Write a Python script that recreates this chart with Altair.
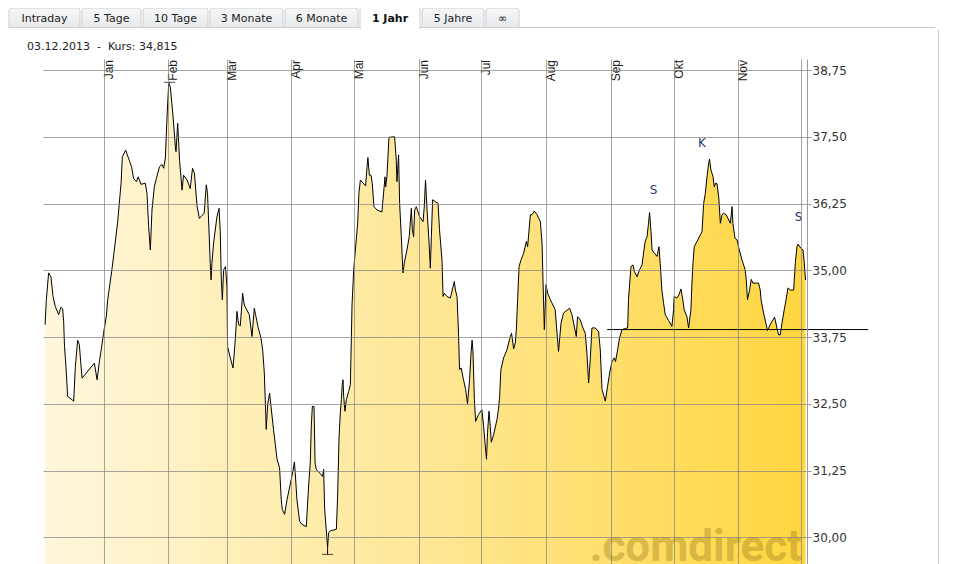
import altair as alt
import pandas as pd

# ---------------- data ----------------
START = pd.Timestamp("2012-12-03")

# trading-day positions (days since 03.12.2012)
days = [
    1.0, 1.6, 2.7, 3.8, 4.8, 5.9, 7.5, 8.6, 9.4, 9.9,
    10.3, 11.0, 11.8, 14.7, 15.5, 16.6, 17.4, 17.9, 18.7, 24.6,
    25.9, 27.0, 28.1, 29.0, 30.3, 31.0, 33.0, 35.7, 37.4, 38.0,
    39.6, 41.3, 42.4, 43.4, 44.7, 45.6, 46.9, 49.0, 49.8, 50.6,
    51.4, 52.2, 53.3, 54.3, 55.8, 57.0, 57.8, 58.6, 59.4, 60.2,
    61.0, 62.3, 63.4, 63.7, 64.5, 65.4, 66.6, 67.3, 69.0, 70.5,
    71.6, 72.5, 73.8, 74.9, 77.2, 78.2, 78.8, 80.1, 80.5, 80.9,
    81.7, 83.3, 84.3, 84.9, 85.4, 85.9, 86.5, 87.4, 88.1, 88.4,
    89.7, 91.0, 92.1, 92.9, 93.7, 94.5, 95.6, 96.4, 98.8, 100.1,
    101.2, 101.8, 103.1, 104.4, 105.2, 106.0, 106.6, 106.9, 107.6, 108.5,
    109.2, 110.4, 112.1, 113.3, 114.1, 114.6, 115.7, 116.9, 118.4, 119.7,
    120.4, 120.8, 121.6, 122.9, 124.0, 126.1, 127.2, 128.0, 128.5, 129.0,
    129.8, 130.3, 130.9, 132.8, 133.9, 134.4, 134.9, 135.7, 136.3, 136.8,
    137.6, 140.5, 141.1, 141.8, 142.4, 142.9, 143.3, 143.7, 144.0, 144.6,
    145.3, 146.4, 147.2, 147.5, 148.0, 148.8, 149.6, 150.7, 151.3, 152.0,
    154.5, 155.2, 155.6, 156.3, 157.1, 157.7, 158.5, 160.0, 162.3, 163.1,
    163.8, 164.1, 164.7, 165.7, 168.4, 169.2, 169.5, 170.3, 170.8, 171.6,
    172.4, 173.0, 174.3, 175.4, 176.4, 176.9, 177.5, 178.0, 178.8, 180.4,
    182.0, 182.6, 183.2, 183.9, 184.9, 185.5, 186.0, 186.6, 189.2, 189.9,
    191.1, 191.6, 192.2, 193.5, 195.1, 196.0, 197.0, 197.5, 198.3, 199.0,
    199.5, 200.3, 201.4, 202.4, 203.3, 204.3, 205.0, 205.5, 205.9, 206.6,
    207.2, 208.6, 210.2, 211.0, 211.7, 212.4, 212.9, 213.6, 214.2, 214.7,
    215.8, 217.4, 218.2, 218.7, 219.3, 220.6, 222.2, 223.8, 224.4, 225.4,
    226.2, 226.7, 227.3, 228.0, 228.9, 230.2, 231.5, 232.1, 233.4, 234.2,
    235.3, 236.6, 238.2, 239.0, 239.5, 240.1, 240.9, 241.7, 243.0, 244.2,
    245.3, 246.2, 246.9, 248.1, 249.3, 252.2, 253.3, 254.6, 255.4, 256.0,
    257.3, 258.6, 259.7, 260.5, 261.3, 262.1, 262.9, 264.5, 266.1, 266.9,
    267.7, 269.3, 270.4, 271.4, 272.5, 273.6, 274.2, 275.2, 276.1, 277.3,
    278.9, 280.0, 280.4, 281.6, 282.6, 283.2, 284.5, 285.7, 286.9, 287.6,
    288.4, 289.3, 290.0, 290.5, 291.2, 291.7, 292.8, 294.1, 295.0, 295.6,
    296.4, 297.2, 298.0, 299.6, 301.2, 302.0, 302.3, 303.6, 304.6, 305.5,
    306.3, 307.1, 308.4, 309.2, 310.3, 310.8, 311.3, 311.9, 313.2, 314.8,
    315.6, 316.4, 317.2, 318.0, 318.8, 319.2, 319.9, 320.9, 321.5, 322.1,
    322.8, 323.6, 324.4, 325.2, 325.9, 327.2, 329.2, 330.0, 330.4, 331.4,
    332.4, 333.1, 334.8, 336.3, 336.8, 337.4, 338.4, 339.2, 340.0, 341.1,
    342.7, 343.5, 343.9, 345.1, 347.0, 348.6, 350.4, 351.5, 352.3, 353.1,
    353.9, 355.0, 355.6, 356.8, 357.9, 359.5, 360.3, 361.1, 361.6, 363.0,
    364.0, 364.6, 365.2,
]

# closing prices (EUR)
prices = [
    33.98, 34.45, 34.95, 34.88, 34.51, 34.32, 34.17, 34.31, 34.28, 34.04,
    33.57, 33.20, 32.64, 32.55, 33.20, 33.69, 33.61, 33.36, 32.98, 33.26,
    32.95, 33.29, 33.57, 33.82, 34.13, 34.45, 35.01, 35.88, 36.63, 37.13,
    37.25, 37.06, 36.94, 36.72, 36.66, 36.75, 36.61, 36.63, 36.44, 35.82,
    35.38, 36.13, 36.56, 36.72, 36.94, 36.98, 36.91, 37.10, 37.87, 38.50,
    38.43, 37.87, 37.31, 37.22, 37.75, 37.06, 36.50, 36.78, 36.69, 36.53,
    36.91, 36.82, 36.19, 35.97, 36.07, 36.60, 36.44, 35.13, 34.82, 35.13,
    35.51, 36.00, 36.16, 35.72, 34.82, 34.45, 35.01, 35.07, 34.70, 33.57,
    33.36, 33.17, 33.70, 34.23, 33.98, 33.96, 34.57, 34.35, 34.17, 33.76,
    34.29, 34.17, 33.92, 33.73, 33.51, 33.08, 32.39, 32.02, 32.48, 32.70,
    32.45, 32.02, 31.46, 31.30, 30.71, 30.52, 30.43, 30.71, 30.99, 31.24,
    31.41, 31.21, 30.71, 30.30, 30.24, 30.20, 30.96, 31.39, 32.08, 32.45,
    32.45, 31.39, 31.27, 31.19, 31.14, 31.27, 30.52, 30.12, 29.81, 30.09,
    30.12, 30.15, 30.77, 31.89, 32.33, 32.58, 32.86, 32.95, 32.64, 32.36,
    32.58, 32.73, 32.86, 33.39, 34.35, 35.01, 35.38, 35.88, 36.44, 36.69,
    36.58, 36.94, 37.11, 36.78, 36.78, 36.63, 36.19, 36.13, 36.09, 36.44,
    36.75, 36.56, 36.75, 37.49, 37.50, 37.06, 36.66, 37.16, 36.25, 35.63,
    34.95, 35.13, 35.38, 35.63, 36.16, 35.76, 35.63, 36.13, 36.19, 36.00,
    35.91, 36.19, 36.69, 36.16, 35.51, 35.04, 35.63, 36.32, 36.25, 35.76,
    35.19, 34.51, 34.57, 34.51, 34.48, 34.63, 34.79, 34.63, 34.51, 33.82,
    33.14, 33.17, 32.95, 32.77, 32.50, 32.95, 33.45, 33.69, 33.51, 32.58,
    32.17, 32.30, 32.39, 32.08, 31.77, 31.46, 31.96, 32.36, 32.08, 31.78,
    31.92, 32.20, 32.42, 32.64, 33.14, 33.36, 33.51, 33.76, 33.82, 33.53,
    33.64, 33.89, 34.45, 35.07, 35.19, 35.32, 35.54, 35.44, 36.04, 36.04,
    36.11, 36.04, 35.91, 35.51, 34.76, 33.89, 34.73, 34.57, 34.45, 34.35,
    34.26, 33.82, 33.48, 34.01, 34.20, 34.29, 34.17, 33.92, 33.76, 34.13,
    34.07, 33.92, 33.82, 33.45, 32.89, 33.33, 33.92, 33.92, 33.85, 33.51,
    32.77, 32.55, 32.83, 33.08, 33.29, 33.36, 33.29, 33.51, 33.73, 33.89,
    33.91, 33.92, 34.45, 35.07, 35.10, 34.98, 34.88, 35.01, 35.10, 35.32,
    35.54, 35.63, 35.88, 36.08, 35.72, 35.38, 35.32, 35.26, 35.44, 35.13,
    34.63, 34.39, 34.17, 34.06, 33.95, 34.26, 34.51, 34.48, 34.54, 34.65,
    34.48, 34.26, 34.13, 33.92, 34.26, 34.76, 35.13, 35.44, 35.54, 35.66,
    35.72, 36.25, 36.44, 36.75, 37.00, 37.08, 36.88, 36.75, 36.56, 36.63,
    36.62, 36.38, 35.88, 36.04, 36.07, 36.04, 35.88, 36.19, 35.88, 35.60,
    35.57, 35.44, 35.19, 35.01, 34.82, 34.45, 34.63, 34.83, 34.76, 34.76,
    34.76, 34.63, 34.45, 34.20, 33.87, 34.01, 34.12, 33.92, 33.79, 33.79,
    34.01, 34.26, 34.39, 34.67, 34.63, 34.63, 35.13, 35.44, 35.49, 35.41,
    35.38, 35.13, 34.815,
]
assert len(days) == len(prices)

month_names = ["Jan", "Feb", "Mär", "Apr", "Mai", "Jun", "Jul", "Aug", "Sep", "Okt", "Nov"]
grid_months = list(range(1, 13))          # Dez has a gridline but no label
y_ticks = [30.0, 31.25, 32.5, 33.75, 35.0, 36.25, 37.5, 38.75]

signal_labels = ["S", "K", "S"]
signal_days = [292.4, 315.6, 361.9]
signal_values = [36.50, 37.39, 36.00]

support_days = [270.2, 395.2]
support_value = 33.89

extreme_days = [60.6, 136.3]
extreme_marks = [38.52, 29.68]
extreme_prices = [38.50, 29.81]

tab_labels = ["Intraday", "5 Tage", "10 Tage", "3 Monate", "6 Monate", "1 Jahr", "5 Jahre", "∞"]
active_tab = "1 Jahr"

# ---------------- layout ----------------
W, H = 764, 505
PAD_L, PAD_T = 35, 51            # plot origin at page (43, 59)
OX, OY = PAD_L + 8, PAD_T + 8

FONT_UI = "DejaVu Sans"
FONT_AX = "Liberation Sans"
NB = "\u00a0"


def to_date(d):
    return START + pd.to_timedelta(d, unit="D")


price_df = pd.DataFrame({"date": [to_date(d) for d in days], "price": prices})

x_scale = alt.Scale(domain=[alt.DateTime(year=2012, month=12, date=3),
                            alt.DateTime(year=2013, month=12, date=3, hours=21, minutes=36)])
y_scale = alt.Scale(domain=[29.5, 38.956], nice=False, zero=False)

grid_values = [alt.DateTime(year=2013, month=m, date=1) for m in grid_months]

x_main = alt.X("date:T", scale=x_scale,
               axis=alt.Axis(orient="top", values=grid_values, labels=False, ticks=False,
                             domain=False, grid=True, gridColor="#808080", gridOpacity=0.7,
                             zindex=1, title=None))
y_main = alt.Y("price:Q", scale=y_scale,
               axis=alt.Axis(orient="right", values=y_ticks, grid=True, gridColor="#808080",
                             gridOpacity=0.7, domainColor="#9a9a9a", tickColor="#9a9a9a",
                             tickSize=4, labelPadding=1, labelFont=FONT_UI, labelFontSize=12,
                             labelColor="#333333", zindex=1, title=None,
                             labelExpr="replace(format(datum.value, '.2f'), '.', ',')"))

gradient = alt.Gradient(
    gradient="linear",
    stops=[alt.GradientStop(color="#FFF7DC", offset=0),
           alt.GradientStop(color="#FEE796", offset=0.5),
           alt.GradientStop(color="#FFD640", offset=1)],
    x1=0, x2=1, y1=0, y2=0,
)

area = alt.Chart(price_df).mark_area(color=gradient, interpolate="linear").encode(x=x_main, y=y_main)
line = alt.Chart(price_df).mark_line(color="black", strokeWidth=1).encode(
    x=alt.X("date:T"), y=alt.Y("price:Q"))

# month labels
month_df = pd.DataFrame({"date": [pd.Timestamp(2013, i + 1, 1) for i in range(len(month_names))],
                         "name": month_names})
months = alt.Chart(month_df).mark_text(angle=270, align="right", baseline="top",
                                       font=FONT_AX, fontSize=12, color="#222222").encode(
    x=alt.X("date:T"), y=alt.value(1), text="name:N")

# watermark
watermark = alt.Chart(pd.DataFrame({"t": [".comdirect"]})).mark_text(
    align="right", baseline="alphabetic", font="Roboto", fontWeight="bold", fontSize=44,
    color="#9C7E1E", opacity=0.38).encode(x=alt.value(802 - OX), y=alt.value(561 - OY), text="t:N")

# support line
support_df = pd.DataFrame({"start": [to_date(support_days[0])], "end": [to_date(support_days[1])],
                           "price": [support_value]})
support = alt.Chart(support_df).mark_rule(color="black", strokeWidth=1).encode(
    x=alt.X("start:T"), x2="end:T", y=alt.Y("price:Q"))

# high / low markers
ext_df = pd.DataFrame({"date": [to_date(d) for d in extreme_days], "mark": extreme_marks,
                       "price": extreme_prices})
ext_tick = alt.Chart(ext_df).mark_tick(orient="horizontal", size=11, thickness=1, color="black").encode(
    x=alt.X("date:T"), y=alt.Y("mark:Q"))
ext_stub = alt.Chart(ext_df).mark_rule(color="black", strokeWidth=1).encode(
    x=alt.X("date:T"), y=alt.Y("price:Q"), y2="mark:Q")

# signals
sig_df = pd.DataFrame({"date": [to_date(d) for d in signal_days], "price": signal_values,
                       "label": signal_labels})
signals = alt.Chart(sig_df).mark_text(font=FONT_UI, fontSize=12, color="#1F3A70",
                                      baseline="middle", align="center").encode(
    x=alt.X("date:T"), y=alt.Y("price:Q"), text="label:N")

# header line
header_text = (f"{to_date(days[-1]):%d.%m.%Y}{NB}{NB}-{NB}{NB}Kurs:{NB}"
               + f"{prices[-1]:.3f}".replace(".", ","))
header = alt.Chart(pd.DataFrame({"t": [header_text]})).mark_text(
    align="left", baseline="middle", font=FONT_UI, fontSize=11, color="#222222").encode(
    x=alt.value(27 - OX), y=alt.value(47 - OY), text="t:N")

# panel border
one = pd.DataFrame({"a": [0]})
panel_top = alt.Chart(one).mark_rule(color="#c8c8c8", strokeWidth=1).encode(
    x=alt.value(9 - OX), x2=alt.value(935 - OX), y=alt.value(27.5 - OY))
panel_right = alt.Chart(one).mark_rule(color="#c8c8c8", strokeWidth=1).encode(
    x=alt.value(938.5 - OX), y=alt.value(30 - OY), y2=alt.value(H + 10))

# tabs
tab_widths = [71, 59, 65, 73, 73, 60, 62, 33]
x0s, pos = [], 9
for w in tab_widths:
    x0s.append(pos)
    pos += w + 2
tab_df = pd.DataFrame({
    "label": tab_labels,
    "x0": [x - OX for x in x0s],
    "x1": [x + w - OX for x, w in zip(x0s, tab_widths)],
    "xc": [x + w / 2 - OX for x, w in zip(x0s, tab_widths)],
})
tab_df["active"] = tab_df["label"] == active_tab
tab_df["y0"] = [(4 if a else 8) - OY for a in tab_df["active"]]
tab_df["y1"] = [(28.5 if a else 27.5) - OY for a in tab_df["active"]]

tab_fill = alt.Gradient(gradient="linear",
                        stops=[alt.GradientStop(color="#F6F7F8", offset=0),
                               alt.GradientStop(color="#E7EAED", offset=1)],
                        x1=0, x2=0, y1=0, y2=1)
tabs_inactive = alt.Chart(tab_df).transform_filter("!datum.active").mark_rect(
    fill=tab_fill, stroke="#cfcfcf", strokeWidth=1, cornerRadiusTopLeft=3, cornerRadiusTopRight=3).encode(
    x=alt.X("x0:Q", scale=None), x2="x1:Q", y=alt.Y("y0:Q", scale=None), y2="y1:Q")
tabs_active = alt.Chart(tab_df).transform_filter("datum.active").mark_rect(
    fill="white", stroke="#cfcfcf", strokeWidth=1, cornerRadiusTopLeft=3, cornerRadiusTopRight=3).encode(
    x=alt.X("x0:Q", scale=None), x2="x1:Q", y=alt.Y("y0:Q", scale=None), y2="y1:Q")
tabs_active_cover = alt.Chart(tab_df).transform_filter("datum.active").transform_calculate(
    a0="datum.x0 + 1", a1="datum.x1 - 1", b0="datum.y1 - 2.5", b1="datum.y1 + 1").mark_rect(
    fill="white").encode(
    x=alt.X("a0:Q", scale=None), x2="a1:Q", y=alt.Y("b0:Q", scale=None), y2="b1:Q")
tab_text = alt.Chart(tab_df).transform_filter("!datum.active").mark_text(
    font=FONT_UI, fontSize=11, color="#222222", baseline="middle", align="center").encode(
    x=alt.X("xc:Q", scale=None), y=alt.value(18.5 - OY), text="label:N")
tab_text_active = alt.Chart(tab_df).transform_filter("datum.active").mark_text(
    font=FONT_UI, fontSize=11, fontWeight="bold", color="#111111", baseline="middle",
    align="center").encode(
    x=alt.X("xc:Q", scale=None), y=alt.value(18.5 - OY), text="label:N")

chart = alt.layer(
    area, line, watermark, months, support, ext_stub, ext_tick, signals,
    header, panel_top, panel_right,
    tabs_inactive, tabs_active, tabs_active_cover, tab_text, tab_text_active,
).properties(
    width=W, height=H,
    background="white",
    autosize=alt.AutoSizeParams(type="none"),
    padding={"left": PAD_L, "top": PAD_T, "right": 942 - PAD_L - W, "bottom": 0},
).configure_view(stroke=None)

chart.save("out.html", embed_options={"renderer": "svg", "actions": False})
